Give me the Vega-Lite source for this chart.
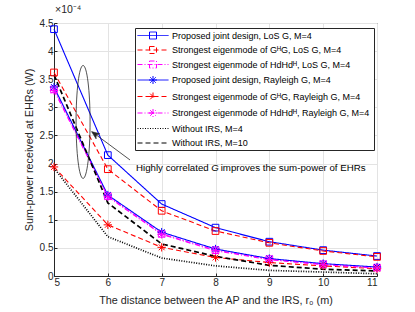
{
  "$schema": "https://vega.github.io/schema/vega-lite/v6.json",
  "autosize": {"type": "none"},
  "width": 323,
  "height": 253,
  "padding": {"left": 54, "top": 23, "right": 38, "bottom": 36},
  "background": "white",
  "title": {"text": "×10⁻⁴", "anchor": "start", "frame": "group", "fontSize": 10.5, "fontWeight": "normal", "font": "Liberation Sans", "color": "#262626", "offset": 3, "dx": 1},
  "config": {
    "view": {"stroke": "#262626", "strokeWidth": 1},
    "axis": {"labelFont": "Liberation Sans", "titleFont": "Liberation Sans", "labelFontSize": 10, "titleFontSize": 10.8, "titleFontWeight": "normal", "labelColor": "#262626", "titleColor": "#262626", "domainColor": "#262626", "tickColor": "#262626", "gridColor": "#e3e3e3", "tickSize": -3, "labelPadding": 4}
  },
  "resolve": {"legend": {"color": "independent", "shape": "independent", "strokeDash": "independent"}},
  "datasets": {
    "curves": [
      {"series": "Proposed joint design, LoS G, M=4", "marker": "square", "r0": 5, "power": 4.39},
      {"series": "Proposed joint design, LoS G, M=4", "marker": "square", "r0": 6, "power": 2.15},
      {"series": "Proposed joint design, LoS G, M=4", "marker": "square", "r0": 7, "power": 1.28},
      {"series": "Proposed joint design, LoS G, M=4", "marker": "square", "r0": 8, "power": 0.86},
      {"series": "Proposed joint design, LoS G, M=4", "marker": "square", "r0": 9, "power": 0.61},
      {"series": "Proposed joint design, LoS G, M=4", "marker": "square", "r0": 10, "power": 0.46},
      {"series": "Proposed joint design, LoS G, M=4", "marker": "square", "r0": 11, "power": 0.355},
      {"series": "Strongest eigenmode of GᴴG, LoS G, M=4", "marker": "square", "r0": 5, "power": 3.62},
      {"series": "Strongest eigenmode of GᴴG, LoS G, M=4", "marker": "square", "r0": 6, "power": 1.9},
      {"series": "Strongest eigenmode of GᴴG, LoS G, M=4", "marker": "square", "r0": 7, "power": 1.16},
      {"series": "Strongest eigenmode of GᴴG, LoS G, M=4", "marker": "square", "r0": 8, "power": 0.8},
      {"series": "Strongest eigenmode of GᴴG, LoS G, M=4", "marker": "square", "r0": 9, "power": 0.59},
      {"series": "Strongest eigenmode of GᴴG, LoS G, M=4", "marker": "square", "r0": 10, "power": 0.445},
      {"series": "Strongest eigenmode of GᴴG, LoS G, M=4", "marker": "square", "r0": 11, "power": 0.34},
      {"series": "Strongest eigenmode of HdHdᴴ, LoS G, M=4", "marker": "square", "r0": 5, "power": 3.32},
      {"series": "Strongest eigenmode of HdHdᴴ, LoS G, M=4", "marker": "square", "r0": 6, "power": 1.42},
      {"series": "Strongest eigenmode of HdHdᴴ, LoS G, M=4", "marker": "square", "r0": 7, "power": 0.75},
      {"series": "Strongest eigenmode of HdHdᴴ, LoS G, M=4", "marker": "square", "r0": 8, "power": 0.46},
      {"series": "Strongest eigenmode of HdHdᴴ, LoS G, M=4", "marker": "square", "r0": 9, "power": 0.3},
      {"series": "Strongest eigenmode of HdHdᴴ, LoS G, M=4", "marker": "square", "r0": 10, "power": 0.21},
      {"series": "Strongest eigenmode of HdHdᴴ, LoS G, M=4", "marker": "square", "r0": 11, "power": 0.15},
      {"series": "Proposed joint design, Rayleigh G, M=4", "marker": "star", "r0": 5, "power": 3.36},
      {"series": "Proposed joint design, Rayleigh G, M=4", "marker": "star", "r0": 6, "power": 1.44},
      {"series": "Proposed joint design, Rayleigh G, M=4", "marker": "star", "r0": 7, "power": 0.78},
      {"series": "Proposed joint design, Rayleigh G, M=4", "marker": "star", "r0": 8, "power": 0.48},
      {"series": "Proposed joint design, Rayleigh G, M=4", "marker": "star", "r0": 9, "power": 0.31},
      {"series": "Proposed joint design, Rayleigh G, M=4", "marker": "star", "r0": 10, "power": 0.22},
      {"series": "Proposed joint design, Rayleigh G, M=4", "marker": "star", "r0": 11, "power": 0.16},
      {"series": "Strongest eigenmode of GᴴG,  Rayleigh G, M=4", "marker": "star", "r0": 5, "power": 1.94},
      {"series": "Strongest eigenmode of GᴴG,  Rayleigh G, M=4", "marker": "star", "r0": 6, "power": 0.91},
      {"series": "Strongest eigenmode of GᴴG,  Rayleigh G, M=4", "marker": "star", "r0": 7, "power": 0.51},
      {"series": "Strongest eigenmode of GᴴG,  Rayleigh G, M=4", "marker": "star", "r0": 8, "power": 0.33},
      {"series": "Strongest eigenmode of GᴴG,  Rayleigh G, M=4", "marker": "star", "r0": 9, "power": 0.24},
      {"series": "Strongest eigenmode of GᴴG,  Rayleigh G, M=4", "marker": "star", "r0": 10, "power": 0.18},
      {"series": "Strongest eigenmode of GᴴG,  Rayleigh G, M=4", "marker": "star", "r0": 11, "power": 0.13},
      {"series": "Strongest eigenmode of HdHdᴴ,  Rayleigh G, M=4", "marker": "star", "r0": 5, "power": 3.3},
      {"series": "Strongest eigenmode of HdHdᴴ,  Rayleigh G, M=4", "marker": "star", "r0": 6, "power": 1.41},
      {"series": "Strongest eigenmode of HdHdᴴ,  Rayleigh G, M=4", "marker": "star", "r0": 7, "power": 0.74},
      {"series": "Strongest eigenmode of HdHdᴴ,  Rayleigh G, M=4", "marker": "star", "r0": 8, "power": 0.45},
      {"series": "Strongest eigenmode of HdHdᴴ,  Rayleigh G, M=4", "marker": "star", "r0": 9, "power": 0.29},
      {"series": "Strongest eigenmode of HdHdᴴ,  Rayleigh G, M=4", "marker": "star", "r0": 10, "power": 0.2},
      {"series": "Strongest eigenmode of HdHdᴴ,  Rayleigh G, M=4", "marker": "star", "r0": 11, "power": 0.14},
      {"series": "Without IRS, M=4", "marker": "none", "r0": 5, "power": 1.92},
      {"series": "Without IRS, M=4", "marker": "none", "r0": 6, "power": 0.7},
      {"series": "Without IRS, M=4", "marker": "none", "r0": 7, "power": 0.32},
      {"series": "Without IRS, M=4", "marker": "none", "r0": 8, "power": 0.18},
      {"series": "Without IRS, M=4", "marker": "none", "r0": 9, "power": 0.1},
      {"series": "Without IRS, M=4", "marker": "none", "r0": 10, "power": 0.07},
      {"series": "Without IRS, M=4", "marker": "none", "r0": 11, "power": 0.04},
      {"series": "Without IRS, M=10", "marker": "none", "r0": 5, "power": 3.58},
      {"series": "Without IRS, M=10", "marker": "none", "r0": 6, "power": 1.3},
      {"series": "Without IRS, M=10", "marker": "none", "r0": 7, "power": 0.57},
      {"series": "Without IRS, M=10", "marker": "none", "r0": 8, "power": 0.35},
      {"series": "Without IRS, M=10", "marker": "none", "r0": 9, "power": 0.19},
      {"series": "Without IRS, M=10", "marker": "none", "r0": 10, "power": 0.12},
      {"series": "Without IRS, M=10", "marker": "none", "r0": 11, "power": 0.09}
    ]
  },
  "encoding": {
    "x": {"field": "r0", "type": "quantitative", "scale": {"domain": [5, 11], "nice": false, "zero": false},
      "axis": {"title": "The distance between the AP and the IRS, r₀ (m)", "values": [5, 6, 7, 8, 9, 10, 11], "format": "d", "grid": true, "titlePadding": 7}},
    "y": {"field": "power", "type": "quantitative", "scale": {"domain": [0, 4.5], "nice": false, "zero": true},
      "axis": {"title": "Sum-power received at EHRs (W)", "values": [0, 0.5, 1, 1.5, 2, 2.5, 3, 3.5, 4, 4.5], "format": "~g", "grid": true, "titlePadding": 5}}
  },
  "layer": [
    {
      "data": {"name": "curves"},
      "transform": [{"filter": "datum.marker != 'none'"}],
      "mark": {"type": "line", "strokeWidth": 1.1},
      "encoding": {
        "color": {"field": "series", "type": "nominal", "legend": null},
        "strokeDash": {"field": "series", "type": "nominal", "legend": null}
      }
    },
    {
      "data": {"name": "curves"},
      "transform": [{"filter": "datum.marker == 'none'"}],
      "mark": {"type": "line", "strokeWidth": 1.7},
      "encoding": {
        "color": {"field": "series", "type": "nominal", "legend": null},
        "strokeDash": {"field": "series", "type": "nominal", "legend": null}
      }
    },
    {
      "data": {"name": "curves"},
      "transform": [{"filter": "datum.marker == 'square'"}],
      "mark": {"type": "point", "shape": "square", "filled": false, "size": 45, "strokeWidth": 1, "opacity": 1},
      "encoding": {
        "color": {"field": "series", "type": "nominal", "legend": null}
      }
    },
    {
      "data": {"name": "curves"},
      "transform": [{"filter": "datum.marker == 'star'"}],
      "mark": {"type": "point", "shape": "M-1,0H1M0,-1V1M-0.7,-0.7L0.7,0.7M-0.7,0.7L0.7,-0.7", "filled": false, "size": 70, "strokeWidth": 1, "opacity": 1},
      "encoding": {
        "color": {"field": "series", "type": "nominal", "legend": null}
      }
    },
    {
      "data": {"name": "curves"},
      "transform": [{"filter": "datum.r0 == 5"}],
      "mark": {"type": "point", "filled": false, "strokeOpacity": 0, "fillOpacity": 0},
      "encoding": {
        "color": {"field": "series", "type": "nominal",
          "scale": {"domain": ["Proposed joint design, LoS G, M=4", "Strongest eigenmode of GᴴG, LoS G, M=4", "Strongest eigenmode of HdHdᴴ, LoS G, M=4", "Proposed joint design, Rayleigh G, M=4", "Strongest eigenmode of GᴴG,  Rayleigh G, M=4", "Strongest eigenmode of HdHdᴴ,  Rayleigh G, M=4", "Without IRS, M=4", "Without IRS, M=10"],
            "range": ["#0000ff", "#ff0000", "#ff00ff", "#0000ff", "#ff0000", "#ff00ff", "#000000", "#000000"]},
          "legend": {"title": null, "orient": "none", "legendX": 81, "legendY": 5, "symbolSize": 100, "symbolStrokeWidth": 1, "labelFontSize": 9, "labelFont": "Liberation Sans", "labelColor": "#000000", "labelOffset": 24, "rowPadding": 3.5, "padding": 2, "strokeColor": "#262626", "fillColor": "white", "labelLimit": 400, "symbolFillColor": "transparent", "symbolOpacity": 1,
            "encode": {"symbols": {"update": {"opacity": {"value": 1}, "strokeOpacity": {"value": 1}, "fillOpacity": {"value": 0}}}}}},
        "shape": {"field": "series", "type": "nominal",
          "scale": {"domain": ["Proposed joint design, LoS G, M=4", "Strongest eigenmode of GᴴG, LoS G, M=4", "Strongest eigenmode of HdHdᴴ, LoS G, M=4", "Proposed joint design, Rayleigh G, M=4", "Strongest eigenmode of GᴴG,  Rayleigh G, M=4", "Strongest eigenmode of HdHdᴴ,  Rayleigh G, M=4", "Without IRS, M=4", "Without IRS, M=10"],
            "range": ["M-1,0H5.2M1.4,-0.7H2.8V0.7H1.4Z", "M-1,0H5.2M1.4,-0.7H2.8V0.7H1.4Z", "M-1,0H5.2M1.4,-0.7H2.8V0.7H1.4Z", "M-1,0H5.2M1.3,0H2.9M2.1,-0.8V0.8M1.53,-0.57L2.67,0.57M1.53,0.57L2.67,-0.57", "M-1,0H5.2M1.3,0H2.9M2.1,-0.8V0.8M1.53,-0.57L2.67,0.57M1.53,0.57L2.67,-0.57", "M-1,0H5.2M1.3,0H2.9M2.1,-0.8V0.8M1.53,-0.57L2.67,0.57M1.53,0.57L2.67,-0.57", "M-1,0H5.2", "M-1,0H5.2"]}},
        "strokeDash": {"field": "series", "type": "nominal",
          "scale": {"domain": ["Proposed joint design, LoS G, M=4", "Strongest eigenmode of GᴴG, LoS G, M=4", "Strongest eigenmode of HdHdᴴ, LoS G, M=4", "Proposed joint design, Rayleigh G, M=4", "Strongest eigenmode of GᴴG,  Rayleigh G, M=4", "Strongest eigenmode of HdHdᴴ,  Rayleigh G, M=4", "Without IRS, M=4", "Without IRS, M=10"],
            "range": [[1, 0], [5, 3], [5, 2, 1, 2], [1, 0], [5, 3], [5, 2, 1, 2], [1, 1.5], [5, 3]]}}
      }
    },
    {
      "data": {"values": [{"r0": 5.54, "power": 2.74}]},
      "mark": {"type": "point", "shape": "M0,-1A0.124,1,0,1,1,0,1A0.124,1,0,1,1,0,-1Z", "size": 12769, "filled": false, "stroke": "#262626", "strokeWidth": 0.8, "opacity": 1}
    },
    {
      "data": {"values": [{"r0": 6.412, "power": 2.064, "r0_end": 5.72, "power_end": 2.555}]},
      "mark": {"type": "rule", "stroke": "#262626", "strokeWidth": 0.8},
      "encoding": {"x2": {"field": "r0_end"}, "y2": {"field": "power_end"}}
    },
    {
      "data": {"values": [{"r0": 5.697, "power": 2.568}]},
      "mark": {"type": "point", "shape": "M0,0L-1,2.5L0,1.8L1,2.5Z", "size": 41, "filled": true, "fill": "#262626", "stroke": "#262626", "strokeWidth": 0.5, "angle": 306, "opacity": 1}
    },
    {
      "data": {"values": [{"r0": 7.874, "power": 1.859, "label": "Highly correlated"}]},
      "mark": {"type": "text", "align": "right", "baseline": "alphabetic", "font": "Liberation Sans", "fontSize": 9.7, "color": "#000000"},
      "encoding": {"text": {"field": "label"}}
    },
    {
      "data": {"values": [{"r0": 7.922, "power": 1.859, "label": "G"}]},
      "mark": {"type": "text", "align": "left", "baseline": "alphabetic", "font": "Liberation Sans", "fontSize": 9.7, "fontStyle": "italic", "color": "#000000"},
      "encoding": {"text": {"field": "label"}}
    },
    {
      "data": {"values": [{"r0": 8.097, "power": 1.859, "label": "improves the sum-power of EHRs"}]},
      "mark": {"type": "text", "align": "left", "baseline": "alphabetic", "font": "Liberation Sans", "fontSize": 9.7, "color": "#000000"},
      "encoding": {"text": {"field": "label"}}
    }
  ]
}
